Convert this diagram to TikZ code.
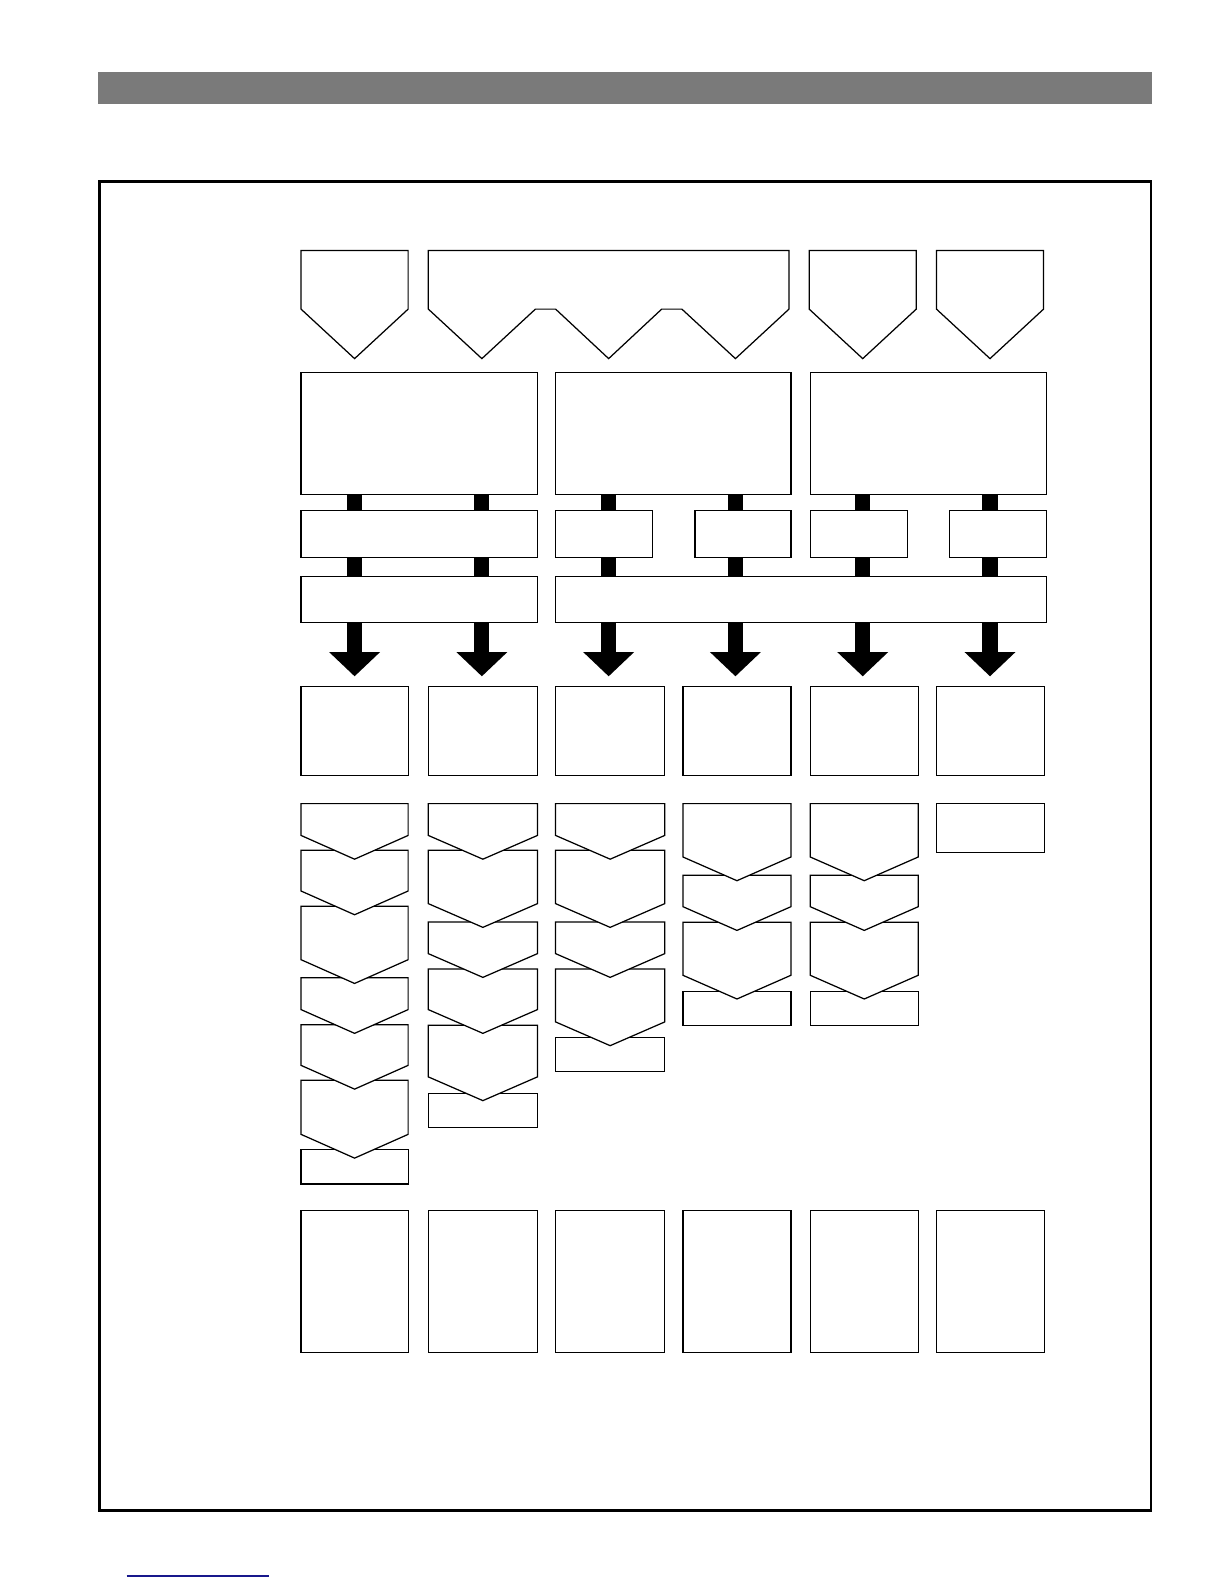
\documentclass[tikz,border=0pt]{standalone}
\usepackage{tikz}
\usetikzlibrary{arrows.meta, fit}
\definecolor{bandgray}{RGB}{122,122,122}
\definecolor{linkblue}{RGB}{24,24,140}
\tikzset{
    box/.style={rectangle, draw, line width=0.7pt, fill=white, inner sep=0pt},
    band/.style={rectangle, fill=bandgray, inner sep=0pt},
    chev/.style={draw, line width=0.7pt, fill=white, line join=miter},
    link/.style={line width=0.3cm},
    arrow/.style={-{Triangle[width=0.98cm, length=0.48cm]}, line width=0.3cm, shorten >=0.19cm}
}
\begin{document}
\begin{tikzpicture}[x=0.02cm, y=-0.02cm]
    \useasboundingbox[fill=white] (0,0) rectangle (1212,1568);
    \node[band, fit={(97,71.3) (1140.7,102.7)}] (banner) {};
    \draw[line width=1.5pt] (98.3,179.5) rectangle (1139.4,1495.5);

    % column lines
    \foreach \i/\x in {1/351, 2/477, 3/602.5, 4/728, 5/854, 6/980}
        \coordinate (col\i) at (\x,0);

    % top inputs
    \draw[chev] (298,248) -- (404,248) -- (404,306) -- (351,355) -- (298,306) -- cycle;
    \draw[chev] (424,248) -- (781,248) -- (781,306) -- (728,355) -- (675,306) -- (655,306) -- (602.5,355)
        -- (550,306) -- (530,306) -- (477,355) -- (424,306) -- cycle;
    \draw[chev] (801,248) -- (907,248) -- (907,306) -- (854,355) -- (801,306) -- cycle;
    \draw[chev] (927,248) -- (1033,248) -- (1033,306) -- (980,355) -- (927,306) -- cycle;

    % groups and links
    \node[box, fit={(298,369) (532,489.5)}] (grpA) {};
    \node[box, fit={(550,369) (783,489.5)}] (grpB) {};
    \node[box, fit={(802,369) (1036,489.5)}] (grpC) {};

    \node[box, fit={(298,505.3) (532,552)}] (sel1) {};
    \node[box, fit={(550,505.3) (646,552)}] (sel2) {};
    \node[box, fit={(688,505.3) (783,552)}] (sel3) {};
    \node[box, fit={(802,505.3) (898,552)}] (sel4) {};
    \node[box, fit={(940,505.3) (1036,552)}] (sel5) {};

    \node[box, fit={(298,570.7) (532,616.2)}] (busA) {};
    \node[box, fit={(550,570.7) (1036,616.2)}] (busB) {};

    \draw[link] (grpA.south -| col1) -- (sel1.north -| col1);
    \draw[link] (grpA.south -| col2) -- (sel1.north -| col2);
    \draw[link] (grpB.south -| col3) -- (sel2.north -| col3);
    \draw[link] (grpB.south -| col4) -- (sel3.north -| col4);
    \draw[link] (grpC.south -| col5) -- (sel4.north -| col5);
    \draw[link] (grpC.south -| col6) -- (sel5.north -| col6);

    \draw[link] (sel1.south -| col1) -- (busA.north -| col1);
    \draw[link] (sel1.south -| col2) -- (busA.north -| col2);
    \draw[link] (sel2.south -| col3) -- (busB.north -| col3);
    \draw[link] (sel3.south -| col4) -- (busB.north -| col4);
    \draw[link] (sel4.south -| col5) -- (busB.north -| col5);
    \draw[link] (sel5.south -| col6) -- (busB.north -| col6);

    % cells
    \foreach \i/\l/\r in {1/298/404, 2/424/532, 3/550/658, 4/676/783, 5/802/909, 6/927/1034} {
        \node[box, fit={(\l,679.6) (\r,767.7)}] (cell\i) {};
        \node[box, fit={(\l,1198.5) (\r,1339)}] (out\i) {};
    }
    \foreach \i in {1,2}
        \draw[arrow] (busA.south -| col\i) -- (cell\i.north -| col\i);
    \foreach \i in {3,...,6}
        \draw[arrow] (busB.south -| col\i) -- (cell\i.north -| col\i);

    % step stacks, drawn from the bottom up
    \node[box, fit={(298,1138) (404,1172)}] (tail1) {};
    \node[box, fit={(424,1082.6) (532,1116)}] (tail2) {};
    \node[box, fit={(550,1027.2) (658,1060.8)}] (tail3) {};
    \node[box, fit={(676,981.6) (783,1015.3)}] (tail4) {};
    \node[box, fit={(802,981.6) (909,1015.3)}] (tail5) {};
    \node[box, fit={(927,795.5) (1034,843.6)}] (tail6) {};
    \foreach \l/\r/\stack in {
        298/404/{1069.4/1122.9,1014.3/1054.6,967.8/999.4,897/950,841.7/882,795.5/827},
        424/532/{1015/1066,959.2/999.4,912.6/944,841.7/894.5,795.5/827},
        550/658/{959.2/1011.6,912.6/944,841.7/894.5,795.5/827},
        676/783/{913/965.4,866.4/897.5,795.5/848.3},
        802/909/{913/965.4,866.4/897.5,795.5/848.3}}
        \foreach \t/\s in \stack
            \draw[chev] (\l,\t) -- (\r,\t) -- (\r,\s) -- ({(\l+\r)/2},{\s+23.5}) -- (\l,\s) -- cycle;

    \draw[linkblue, line width=0.85pt] (125.4,1560) -- (266.4,1560);
\end{tikzpicture}
\end{document}
